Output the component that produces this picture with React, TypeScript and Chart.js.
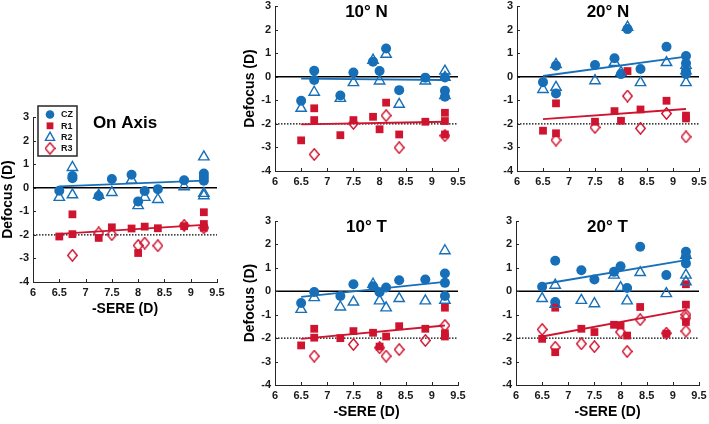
import React, { useEffect, useRef } from 'react';
import { Chart, registerables } from 'chart.js';

Chart.register(...registerables);

type Pt = [number, number];

// values, as [-SERE (D), defocus (D)]
const onAxisCZ: Pt[] = [[6.5, -0.13], [6.75, 0.5], [6.75, 0.4], [7.25, -0.35], [7.5, 0.37], [7.875, 0.55], [8.0, -0.58], [8.125, -0.14], [8.375, -0.06], [8.875, 0.32], [9.25, 0.6], [9.25, 0.45], [9.25, 0.3]];
const onAxisR1: Pt[] = [[6.5, -2.07], [6.75, -1.13], [6.75, -1.97], [7.25, -2.13], [7.5, -1.68], [7.875, -1.73], [8.0, -2.77], [8.125, -1.65], [8.375, -1.72], [8.875, -1.63], [9.25, -1.04], [9.25, -1.54], [9.25, -1.7]];
const onAxisR2: Pt[] = [[6.5, -0.41], [6.75, 0.86], [6.75, -0.3], [7.25, -0.32], [7.5, -0.2], [7.875, 0.32], [8.0, -0.76], [8.125, -0.41], [8.375, -0.5], [8.875, 0.04], [9.25, 1.31], [9.25, -0.24], [9.25, -0.34]];
const onAxisR3: Pt[] = [[6.75, -2.87], [7.25, -1.92], [7.5, -1.99], [8.0, -2.45], [8.125, -2.35], [8.375, -2.46], [8.875, -1.6], [9.25, -1.7]];
const onAxisFitBlue: Pt[] = [[6.5, 0.06], [9.25, 0.3]];
const onAxisFitRed: Pt[] = [[6.5, -1.96], [9.25, -1.58]];

const n10CZ: Pt[] = [[6.5, -1.02], [6.75, 0.25], [6.75, -0.14], [7.25, -0.8], [7.5, 0.18], [7.875, 0.64], [8.0, 0.24], [8.125, 1.2], [8.375, -0.57], [8.875, -0.04], [9.25, -0.03], [9.25, -0.6], [9.25, -0.85]];
const n10R1: Pt[] = [[6.5, -2.7], [6.75, -1.34], [6.75, -1.84], [7.25, -2.48], [7.5, -1.84], [7.875, -1.7], [8.0, -2.23], [8.125, -1.1], [8.375, -2.45], [8.875, -1.91], [9.25, -1.53], [9.25, -1.88], [9.25, -2.45]];
const n10R2: Pt[] = [[6.5, -1.34], [6.75, -0.66], [7.25, -0.92], [7.5, -0.25], [7.875, 0.7], [8.0, -0.18], [8.125, 0.95], [8.375, -1.17], [8.875, -0.18], [9.25, 0.24], [9.25, -0.03], [9.25, -0.8]];
const n10R3: Pt[] = [[6.75, -3.3], [7.5, -1.98], [8.125, -1.65], [8.375, -3.01], [9.25, -2.5]];
const n10FitBlue: Pt[] = [[6.5, -0.08], [9.25, -0.14]];
const n10FitRed: Pt[] = [[6.5, -2.02], [9.25, -1.91]];

const n20CZ: Pt[] = [[6.5, -0.23], [6.75, 0.47], [6.75, -0.71], [7.5, 0.5], [7.875, 0.78], [8.0, 0.11], [8.125, 2.02], [8.375, 0.33], [8.875, 1.27], [9.25, 0.88], [9.25, 0.57], [9.25, 0.24], [9.25, 0.11]];
const n20R1: Pt[] = [[6.5, -2.29], [6.75, -1.13], [6.75, -2.4], [7.5, -1.91], [7.875, -1.46], [8.0, -1.87], [8.125, 0.24], [8.375, -1.39], [8.875, -1.02], [9.25, -1.65], [9.25, -1.77]];
const n20R2: Pt[] = [[6.5, -0.54], [6.75, 0.52], [6.75, -0.45], [7.5, -0.17], [7.875, 0.6], [8.0, 0.18], [8.125, 2.1], [8.375, -0.25], [8.875, 0.6], [9.25, -0.25], [9.25, 0.25], [9.25, 0.48]];
const n20R3: Pt[] = [[6.75, -2.69], [7.5, -2.15], [8.125, -0.82], [8.375, -2.19], [8.875, -1.56], [9.25, -2.55]];
const n20FitBlue: Pt[] = [[6.5, 0.03], [9.25, 0.85]];
const n20FitRed: Pt[] = [[6.5, -1.8], [9.25, -1.37]];

const t10CZ: Pt[] = [[6.5, -0.5], [6.75, -0.03], [7.25, -0.2], [7.5, 0.3], [7.875, 0.21], [8.0, -0.04], [8.125, 0.16], [8.375, 0.47], [8.875, 0.5], [9.25, 0.76], [9.25, 0.36], [9.25, -0.2]];
const t10R1: Pt[] = [[6.5, -2.31], [6.75, -1.6], [6.75, -1.98], [7.25, -2.0], [7.5, -1.7], [7.875, -1.77], [8.0, -2.36], [8.125, -1.93], [8.375, -1.49], [8.875, -1.6], [9.25, -0.7], [9.25, -1.79], [9.25, -1.93]];
const t10R2: Pt[] = [[6.5, -0.77], [6.75, -0.27], [7.25, -0.67], [7.5, -0.46], [7.875, 0.3], [8.0, -0.41], [8.125, -0.71], [8.375, -0.31], [8.875, -0.41], [9.25, 1.73], [9.25, -0.38]];
const t10R3: Pt[] = [[6.75, -2.77], [7.5, -2.27], [8.0, -2.41], [8.125, -2.77], [8.375, -2.49], [8.875, -2.1], [9.25, -1.46]];
const t10FitBlue: Pt[] = [[6.5, -0.24], [9.25, 0.4]];
const t10FitRed: Pt[] = [[6.5, -2.03], [9.25, -1.46]];

const t20CZ: Pt[] = [[6.5, 0.19], [6.75, 1.3], [6.75, -0.46], [7.25, 0.9], [7.5, 0.5], [7.875, 0.83], [8.0, 1.07], [8.125, 0.14], [8.375, 1.9], [8.875, 0.69], [9.25, 1.69], [9.25, 1.47], [9.25, 1.19]];
const t20R1: Pt[] = [[6.5, -2.03], [6.75, -0.7], [6.75, -2.6], [7.25, -1.6], [7.5, -1.74], [7.875, -1.43], [8.0, -1.46], [8.125, -1.89], [8.375, -0.67], [8.875, -1.81], [9.25, 0.3], [9.25, -0.57], [9.25, -1.31]];
const t20R2: Pt[] = [[6.5, -0.31], [6.75, 0.26], [6.75, -0.56], [7.25, -0.39], [7.5, -0.53], [7.875, 0.69], [8.0, 0.16], [8.125, -0.41], [8.375, 0.8], [8.875, -0.1], [9.25, 0.69], [9.25, 0.4], [9.25, 1.54]];
const t20R3: Pt[] = [[6.5, -1.63], [6.75, -2.39], [7.25, -2.24], [7.5, -2.36], [8.0, -1.74], [8.125, -2.57], [8.375, -1.21], [8.875, -1.79], [9.25, -1.0], [9.25, -1.7], [9.25, -1.14]];
const t20FitBlue: Pt[] = [[6.5, 0.3], [9.25, 1.33]];
const t20FitRed: Pt[] = [[6.5, -1.93], [9.25, -0.79]];

const zeroLine: Pt[] = [[6, 0], [9.5, 0]];
const myopiaLine: Pt[] = [[6, -2], [9.5, -2]];

const xTicks = [6, 6.5, 7, 7.5, 8, 8.5, 9, 9.5];
const yTicks = [-4, -3, -2, -1, 0, 1, 2, 3];
const legendLabels = ['CZ', 'R1', 'R2', 'R3'];

const BLUE = '#176fb8';
const RED = '#cf1430';
const FONT = '"Liberation Sans", Arial, Helvetica, sans-serif';

const PAD_L = 40;
const PAD_T = 20;
const PAD_R = 12;
const PAD_B = 40;

const panels = [
  { key: 'on', title: 'On Axis', left: 33, top: 117, right: 217, bottom: 282, yLabel: true, xLabel: true, legend: true, cz: onAxisCZ, r1: onAxisR1, r2: onAxisR2, r3: onAxisR3, fitBlue: onAxisFitBlue, fitRed: onAxisFitRed },
  { key: 'n10', title: '10° N', left: 275, top: 6, right: 458, bottom: 171, yLabel: true, xLabel: false, legend: false, cz: n10CZ, r1: n10R1, r2: n10R2, r3: n10R3, fitBlue: n10FitBlue, fitRed: n10FitRed },
  { key: 'n20', title: '20° N', left: 517, top: 6, right: 699, bottom: 171, yLabel: false, xLabel: false, legend: false, cz: n20CZ, r1: n20R1, r2: n20R2, r3: n20R3, fitBlue: n20FitBlue, fitRed: n20FitRed },
  { key: 't10', title: '10° T', left: 275, top: 221, right: 458, bottom: 385, yLabel: true, xLabel: true, legend: false, cz: t10CZ, r1: t10R1, r2: t10R2, r3: t10R3, fitBlue: t10FitBlue, fitRed: t10FitRed },
  { key: 't20', title: '20° T', left: 516, top: 221, right: 699, bottom: 385, yLabel: false, xLabel: true, legend: false, cz: t20CZ, r1: t20R1, r2: t20R2, r3: t20R3, fitBlue: t20FitBlue, fitRed: t20FitRed },
];

type PanelDef = typeof panels[number];

const toXY = (pts: Pt[]) => pts.map(([x, y]) => ({ x, y }));

// open diamond marker, a bit taller than wide like the MATLAB one
const makeDiamond = () => {
  const c = document.createElement('canvas');
  c.width = 11;
  c.height = 13;
  const g = c.getContext('2d')!;
  g.strokeStyle = RED;
  g.lineWidth = 1.4;
  g.beginPath();
  g.moveTo(5.5, 0.8);
  g.lineTo(10.2, 6.5);
  g.lineTo(5.5, 12.2);
  g.lineTo(0.8, 6.5);
  g.closePath();
  g.stroke();
  return c;
};

const decorPlugin = {
  id: 'decor',
  afterDraw(chart: any, _args: any, opts: any) {
    const { ctx, chartArea: a, scales } = chart;
    ctx.save();

    // inward tick marks
    ctx.strokeStyle = '#262626';
    ctx.lineWidth = 1;
    ctx.beginPath();
    xTicks.forEach((v) => {
      const px = Math.round(scales.x.getPixelForValue(v)) + 0.5;
      ctx.moveTo(px, a.bottom);
      ctx.lineTo(px, a.bottom - 3);
    });
    yTicks.forEach((v) => {
      const py = Math.round(scales.y.getPixelForValue(v)) + 0.5;
      ctx.moveTo(a.left, py);
      ctx.lineTo(a.left + 3, py);
    });
    ctx.stroke();

    ctx.fillStyle = '#000';
    ctx.textAlign = 'center';
    ctx.textBaseline = 'middle';
    ctx.font = `bold 17px ${FONT}`;
    ctx.fillText(opts.title, (a.left + a.right) / 2, a.top + 6);

    ctx.font = `bold 14px ${FONT}`;
    if (opts.xLabel) {
      ctx.fillText('-SERE (D)', (a.left + a.right) / 2, a.bottom + 27);
    }
    if (opts.yLabel) {
      ctx.save();
      ctx.translate(a.left - 25, (a.top + a.bottom) / 2);
      ctx.rotate(-Math.PI / 2);
      ctx.fillText('Defocus (D)', 0, 0);
      ctx.restore();
    }

    if (opts.legend) {
      const bx = a.left + 5;
      const by = a.top - 11;
      ctx.fillStyle = '#fff';
      ctx.fillRect(bx, by, 39, 50);
      ctx.strokeStyle = '#262626';
      ctx.lineWidth = 1.5;
      ctx.strokeRect(bx, by, 39, 50);
      legendLabels.forEach((lab, i) => {
        const mx = bx + 12;
        const my = by + 8.5 + i * 11.3;
        ctx.beginPath();
        if (i === 0) {
          ctx.fillStyle = BLUE;
          ctx.arc(mx, my, 4.3, 0, Math.PI * 2);
          ctx.fill();
        } else if (i === 1) {
          ctx.fillStyle = RED;
          ctx.fillRect(mx - 3.4, my - 3.4, 6.8, 6.8);
        } else if (i === 2) {
          ctx.strokeStyle = BLUE;
          ctx.lineWidth = 1.4;
          ctx.moveTo(mx, my - 5);
          ctx.lineTo(mx + 4.6, my + 3.3);
          ctx.lineTo(mx - 4.6, my + 3.3);
          ctx.closePath();
          ctx.stroke();
        } else {
          ctx.drawImage(opts.diamond, mx - 5.5, my - 6.5);
        }
        ctx.fillStyle = '#111';
        ctx.textAlign = 'left';
        ctx.font = `bold 9px ${FONT}`;
        ctx.fillText(lab, bx + 23, my + 0.5);
      });
    }
    ctx.restore();
  },
};

const Panel: React.FC<{ p: PanelDef }> = ({ p }) => {
  const canvasRef = useRef<HTMLCanvasElement>(null);
  const w = p.right - p.left + PAD_L + PAD_R;
  const h = p.bottom - p.top + PAD_T + PAD_B;

  useEffect(() => {
    if (!canvasRef.current) return;
    const diamond = makeDiamond();

    const line = (pts: Pt[], color: string, width: number, order: number, dash: number[] = []) => ({
      data: toXY(pts),
      showLine: true,
      borderColor: color,
      borderWidth: width,
      borderDash: dash,
      pointRadius: 0,
      order,
    });

    const tickFont = { family: FONT, size: 11, weight: 'bold' as const };

    const chart = new Chart(canvasRef.current, {
      type: 'scatter',
      data: {
        datasets: [
          line(zeroLine, '#000', 1.5, 10),
          line(myopiaLine, '#000', 1.2, 10, [1.5, 1.5]),
          { data: toXY(p.cz), pointStyle: 'circle', pointRadius: 5, backgroundColor: BLUE, borderColor: BLUE, borderWidth: 0, order: 6 },
          { data: toXY(p.r1), pointStyle: 'rect', pointRadius: 5.5, backgroundColor: RED, borderColor: RED, borderWidth: 0, order: 5 },
          { data: toXY(p.r2), pointStyle: 'triangle', pointRadius: 6, backgroundColor: 'rgba(0,0,0,0)', borderColor: BLUE, borderWidth: 1.4, order: 4 },
          { data: toXY(p.r3), pointStyle: diamond, pointRadius: 5, backgroundColor: 'rgba(0,0,0,0)', borderColor: RED, borderWidth: 1.4, order: 3 },
          line(p.fitBlue, BLUE, 1.8, 1),
          line(p.fitRed, RED, 1.8, 1),
        ] as any,
      },
      options: {
        responsive: false,
        animation: false,
        events: [],
        layout: { padding: { top: PAD_T, right: PAD_R, left: 0, bottom: 0 } },
        plugins: {
          legend: { display: false },
          tooltip: { enabled: false },
          decor: { title: p.title, xLabel: p.xLabel, yLabel: p.yLabel, legend: p.legend, diamond },
        } as any,
        scales: {
          x: {
            type: 'linear',
            min: 6,
            max: 9.5,
            afterBuildTicks: (s: any) => {
              s.ticks = xTicks.map((v) => ({ value: v }));
            },
            afterFit: (s: any) => {
              s.height = PAD_B;
              s.paddingLeft = 0;
              s.paddingRight = 0;
            },
            grid: { display: false, drawTicks: false },
            border: { display: true, color: '#262626', width: 1 },
            ticks: {
              autoSkip: false,
              maxRotation: 0,
              padding: 4,
              color: '#1a1a1a',
              font: tickFont,
              callback: (v: any) => String(v),
            },
          },
          y: {
            type: 'linear',
            min: -4,
            max: 3,
            afterBuildTicks: (s: any) => {
              s.ticks = yTicks.map((v) => ({ value: v }));
            },
            afterFit: (s: any) => {
              s.width = PAD_L;
              s.paddingTop = 0;
              s.paddingBottom = 0;
            },
            grid: { display: false, drawTicks: false },
            border: { display: true, color: '#262626', width: 1 },
            ticks: {
              autoSkip: false,
              padding: 4,
              color: '#1a1a1a',
              font: tickFont,
              callback: (v: any) => String(v),
            },
          },
        },
      } as any,
      plugins: [decorPlugin],
    });

    return () => chart.destroy();
  }, [p]);

  return (
    <canvas
      ref={canvasRef}
      width={w}
      height={h}
      style={{ position: 'absolute', left: p.left - PAD_L, top: p.top - PAD_T, width: w, height: h }}
    />
  );
};

const App: React.FC = () => (
  <div style={{ position: 'absolute', left: 0, top: 0, width: 709, height: 424, overflow: 'hidden', background: '#fff' }}>
    {panels.map((p) => (
      <Panel key={p.key} p={p} />
    ))}
  </div>
);

export default App;
